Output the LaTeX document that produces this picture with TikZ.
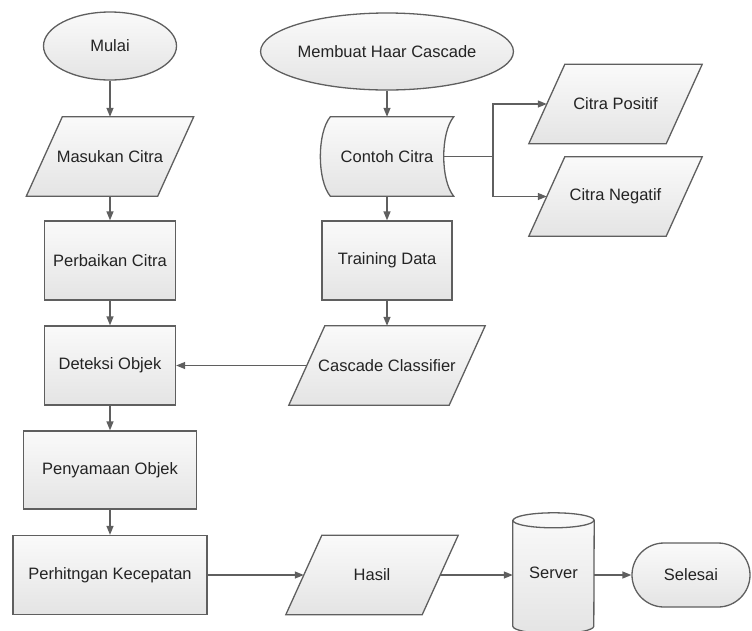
\documentclass[tikz,border=0pt]{standalone}
\usepackage{fontspec}
\setmainfont{Liberation Sans}
\usetikzlibrary{shapes.geometric,arrows.meta,calc,backgrounds}
\definecolor{linec}{RGB}{95,95,95}
\definecolor{shadetop}{RGB}{250,250,250}
\definecolor{shadebot}{RGB}{228,228,228}
\definecolor{textc}{RGB}{35,35,35}
\tikzset{
  shp/.style={draw=linec, line width=1.3pt, top color=shadetop, bottom color=shadebot},
  txt/.style={font=\fontsize{16.5}{19}\selectfont, text=textc, inner sep=0pt},
  procbox/.style={shp, txt, minimum height=79pt},
  termel/.style={ellipse, shp, txt},
  paranode/.style={txt, minimum height=79pt},
  plainline/.style={draw=linec, line width=1.3pt},
  conn/.style={plainline, -{Triangle[length=9pt,width=7pt]}},
}
\begin{document}
\begin{tikzpicture}[x=1pt,y=-1pt]
\useasboundingbox (0,0) rectangle (752,630);
% left column
\node[termel, minimum width=133pt, minimum height=68pt] (mulai) at (110,46) {Mulai};
\node[paranode, minimum width=131pt] (masuk) at (110,156.5) {Masukan Citra};
\node[procbox, minimum width=131pt] (perb) at (110,260.5) {Perbaikan Citra};
\node[procbox, minimum width=131pt] (det) at (110,365.5) {Deteksi Objek};
\node[procbox, minimum width=173pt, minimum height=78pt] (peny) at (110,470) {Penyamaan Objek};
\node[procbox, minimum width=194pt] (perh) at (110,575) {Perhitngan Kecepatan};
% bottom row
\node[paranode, minimum width=136pt] (hasil) at (372,575) {Hasil};
\node[txt, minimum width=81pt, minimum height=105.5pt] (server) at (553.5,573.25) {Server};
\node[shp, txt, rounded corners=32pt, minimum width=118pt, minimum height=64pt] (sel) at (691,575) {Selesai};
% right column
\node[termel, minimum width=209pt, minimum height=77pt] (haar) at (387,51.5) {Membuat Haar Cascade};
\node[txt, minimum width=133pt, minimum height=79pt] (contoh) at (387,156.5) {Contoh Citra};
\node[procbox, minimum width=130pt] (train) at (387,260.5) {Training Data};
\node[paranode, minimum width=160pt] (casc) at (387,365.5) {Cascade Classifier};
\node[paranode, minimum width=137pt] (pos) at (615.5,104) {Citra Positif};
\node[paranode, minimum width=137pt] (neg) at (615.5,196.5) {Citra Negatif};
\coordinate (ce) at ($(contoh.east)+(-10,0)$);
\coordinate (jn) at (493,156.5);
% shapes drawn behind the texts
\begin{scope}[on background layer]
  \foreach \n in {masuk,hasil,casc,pos,neg}{
    \path[shp] ($(\n.north west)+(18,0)$) -- ($(\n.north east)+(18,0)$)
      -- ($(\n.south east)+(-18,0)$) -- ($(\n.south west)+(-18,0)$) -- cycle;
  }
  % stored data shape
  \path[shp] ($(contoh.north west)+(10,0)$) -- (contoh.north east)
     .. controls +(-13.3,16) and +(-13.3,-16) .. (contoh.south east)
     -- ($(contoh.south west)+(10,0)$)
     .. controls +(-13.3,-16) and +(-13.3,16) .. ($(contoh.north west)+(10,0)$) -- cycle;
  % cylinder
  \path[shp] (server.north west) -- (server.south west)
     arc[start angle=180, end angle=360, x radius=40.5pt, y radius=7.5pt]
     -- (server.north east)
     arc[start angle=0, end angle=180, x radius=40.5pt, y radius=7.5pt] -- cycle;
  \draw[plainline] (server.north west)
     arc[start angle=180, end angle=360, x radius=40.5pt, y radius=7.5pt];
\end{scope}
% connectors
\draw[conn] (mulai) -- (masuk);
\draw[conn] (masuk) -- (perb);
\draw[conn] (perb) -- (det);
\draw[conn] (det) -- (peny);
\draw[conn] (peny) -- (perh);
\draw[conn] (perh) -- (hasil);
\draw[conn] (hasil.east) -- (hasil.east -| server.west);
\draw[conn] (server.east |- sel.west) -- (sel.west);
\draw[conn] (haar) -- (contoh);
\draw[conn] (contoh) -- (train);
\draw[conn] (train) -- (casc);
\draw[conn] (casc) -- (det);
\draw[plainline] (ce) -- (jn);
\draw[conn] (jn) |- (pos.west);
\draw[conn] (jn) |- (neg.west);
\end{tikzpicture}
\end{document}
